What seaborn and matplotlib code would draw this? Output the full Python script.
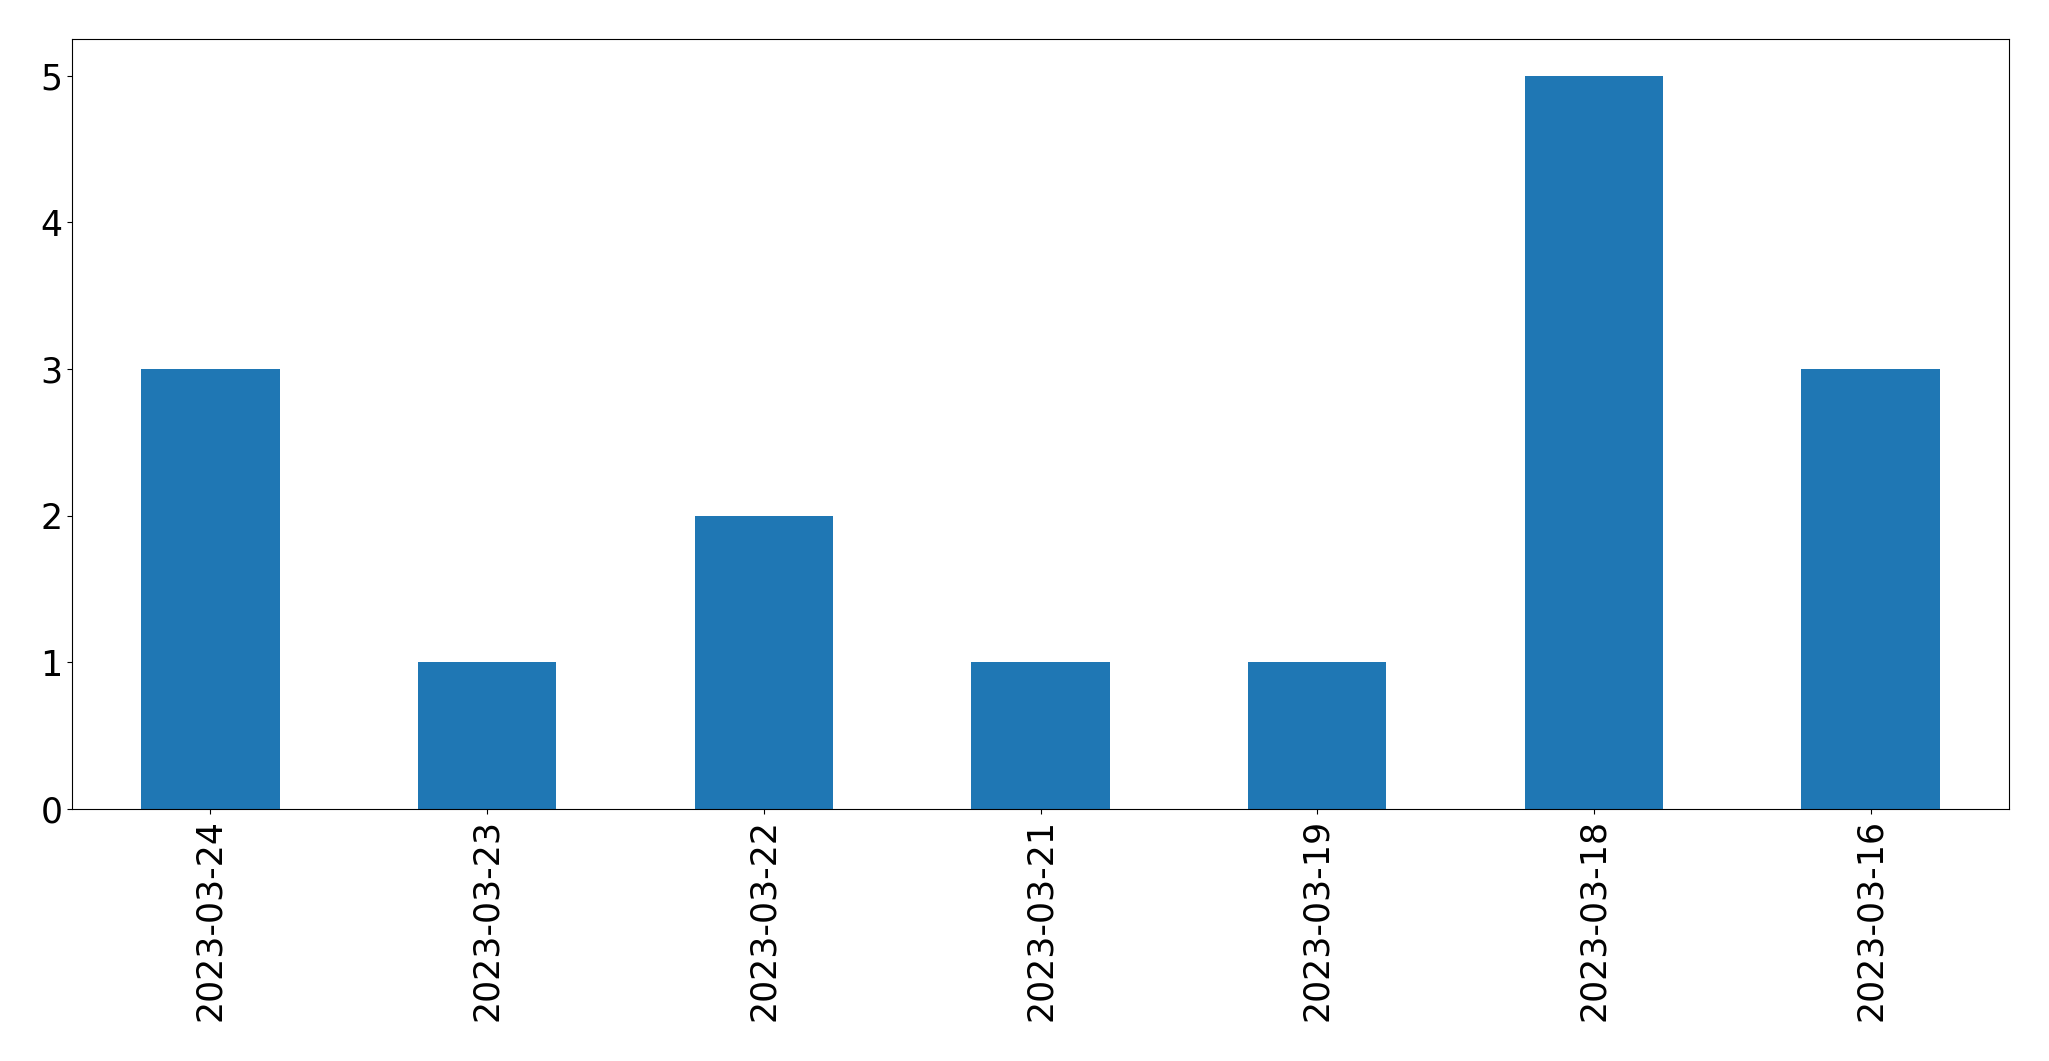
# ── Imports ──────────────────────────────────────────────────────────
import matplotlib
matplotlib.use('Agg')
import matplotlib.pyplot as plt
import seaborn as sns
import pandas as pd

# ── Data ─────────────────────────────────────────────────────────────
dates = ['2023-03-24', '2023-03-23', '2023-03-22', '2023-03-21',
         '2023-03-19', '2023-03-18', '2023-03-16']
counts = [3, 1, 2, 1, 1, 5, 3]

df = pd.DataFrame({'date': dates, 'count': counts})

# ── Plot ─────────────────────────────────────────────────────────────
plt.rcParams['font.family'] = ['DejaVu Sans']
fig = plt.figure(figsize=(20.49, 10.61), dpi=100)
ax = fig.add_axes([72 / 2049, 1 - 809 / 1061, (2009 - 72) / 2049, (809 - 39) / 1061])

sns.barplot(data=df, x='date', y='count', order=dates, color='#1f77b4',
            saturation=1, width=0.5, ax=ax)

ax.set_xlim(-0.5, len(dates) - 0.5)
ax.set_ylim(0, 5.25)
ax.set_xlabel('')
ax.set_ylabel('')
ax.tick_params(axis='both', labelsize=25)
ax.tick_params(axis='x', labelrotation=90)

fig.savefig('out.png', dpi=100)
